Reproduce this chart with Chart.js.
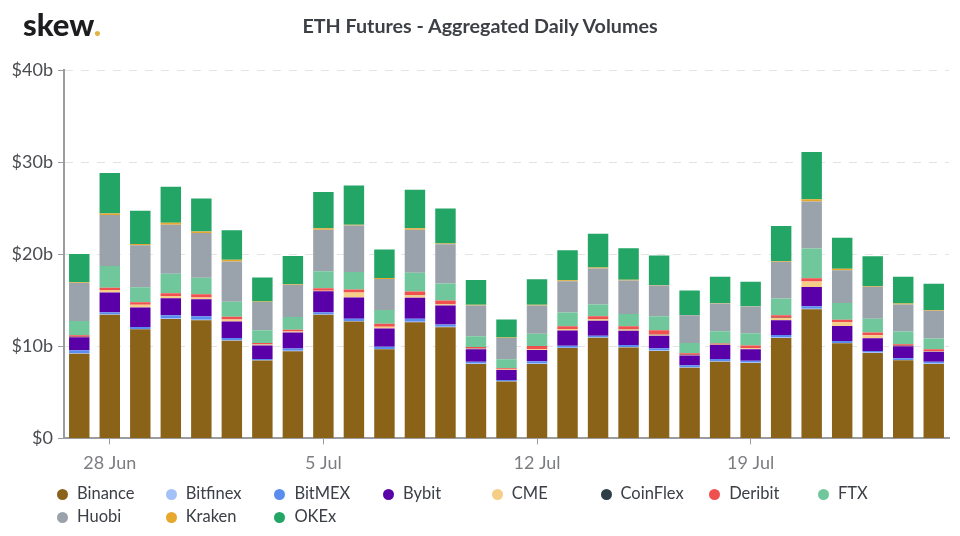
<!DOCTYPE html>
<html>
<head>
<meta charset="utf-8">
<title>ETH Futures - Aggregated Daily Volumes</title>
<script src="https://cdn.jsdelivr.net/npm/chart.js@4"></script>
<style>
  html, body { margin: 0; padding: 0; background: #fff; }
  #wrap { position: relative; width: 960px; height: 536px; overflow: hidden; font-family: Lato, sans-serif; }
  #logo { position: absolute; left: 23px; top: 5px; font-size: 31px; font-weight: 900; color: #1d1d1f; }
  #logo span { color: #e3b341; }
  #title { position: absolute; left: 0; width: 960px; top: 14px; text-align: center; font-size: 19.7px; line-height: 24px; font-weight: 700; color: #3c3f44; }
  #legend div { position: absolute; font-size: 16.5px; line-height: 20px; color: #3c4046; white-space: nowrap; }
  #legend i { position: absolute; left: -20px; top: 6px; width: 11px; height: 11px; border-radius: 50%; }
</style>
</head>
<body>
<div id="wrap">
  <canvas id="chart" width="960" height="536"></canvas>
  <div id="logo">skew<span>.</span></div>
  <div id="title">ETH Futures - Aggregated Daily Volumes</div>
  <div id="legend"></div>
</div>
<script>
const dates = ['27 Jun', '28 Jun', '29 Jun', '30 Jun', '1 Jul', '2 Jul', '3 Jul', '4 Jul', '5 Jul', '6 Jul',
  '7 Jul', '8 Jul', '9 Jul', '10 Jul', '11 Jul', '12 Jul', '13 Jul', '14 Jul', '15 Jul', '16 Jul',
  '17 Jul', '18 Jul', '19 Jul', '20 Jul', '21 Jul', '22 Jul', '23 Jul', '24 Jul', '25 Jul'];
const tickDates = ['28 Jun', '5 Jul', '12 Jul', '19 Jul'];
const yTicks = ['$0', '$10b', '$20b', '$30b', '$40b'];

// all in $ billions
const binance = [9.2, 13.43, 11.84, 12.96, 12.82, 10.6, 8.45, 9.46, 13.42, 12.7, 9.67, 12.6, 12.08, 8.08, 6.17, 8.08, 9.81, 10.93, 9.88, 9.49, 7.68, 8.33, 8.19, 10.9, 14.02, 10.33, 9.28, 8.48, 8.08];
const bitfinex = [0.06, 0.05, 0.05, 0.06, 0.05, 0.05, 0.04, 0.05, 0.05, 0.05, 0.05, 0.06, 0.05, 0.04, 0.03, 0.04, 0.04, 0.04, 0.04, 0.05, 0.04, 0.04, 0.04, 0.05, 0.05, 0.04, 0.04, 0.04, 0.04];
const bitmex = [0.3, 0.22, 0.21, 0.34, 0.38, 0.25, 0.14, 0.24, 0.23, 0.25, 0.24, 0.34, 0.24, 0.21, 0.15, 0.25, 0.21, 0.18, 0.22, 0.26, 0.21, 0.25, 0.21, 0.28, 0.28, 0.21, 0.18, 0.18, 0.21];
const bybit = [1.41, 2.15, 2.1, 1.87, 1.85, 1.8, 1.47, 1.75, 2.28, 2.3, 1.98, 2.26, 2.06, 1.34, 1.08, 1.23, 1.66, 1.62, 1.55, 1.35, 1.07, 1.52, 1.23, 1.6, 2.1, 1.63, 1.37, 1.3, 1.09];
const cme = [0.05, 0.25, 0.3, 0.22, 0.2, 0.2, 0.1, 0.1, 0.05, 0.54, 0.18, 0.29, 0.14, 0.07, 0.04, 0.07, 0.15, 0.18, 0.14, 0.11, 0.06, 0.04, 0.11, 0.25, 0.58, 0.39, 0.33, 0.04, 0.04];
const coinflex = [0.01, 0.01, 0.01, 0.01, 0.01, 0.01, 0.01, 0.01, 0.01, 0.01, 0.01, 0.01, 0.01, 0.01, 0.01, 0.01, 0.01, 0.01, 0.01, 0.01, 0.01, 0.01, 0.01, 0.01, 0.01, 0.01, 0.01, 0.01, 0.01];
const deribit = [0.18, 0.25, 0.27, 0.29, 0.33, 0.3, 0.16, 0.2, 0.27, 0.32, 0.33, 0.4, 0.4, 0.18, 0.13, 0.36, 0.29, 0.29, 0.33, 0.47, 0.18, 0.11, 0.29, 0.29, 0.36, 0.26, 0.29, 0.18, 0.21];
const ftx = [1.55, 2.35, 1.63, 2.13, 1.81, 1.64, 1.37, 1.38, 1.85, 1.91, 1.47, 2.02, 1.83, 1.15, 0.98, 1.33, 1.51, 1.3, 1.33, 1.52, 1.12, 1.34, 1.34, 1.81, 3.21, 1.84, 1.48, 1.38, 1.16];
const huobi = [4.15, 5.55, 4.56, 5.33, 4.86, 4.36, 3.07, 3.5, 4.5, 5.03, 3.38, 4.68, 4.27, 3.36, 2.32, 3.07, 3.39, 3.89, 3.65, 3.35, 3.01, 3.01, 2.9, 3.99, 5.1, 3.56, 3.48, 2.93, 3.01];
const kraken = [0.07, 0.15, 0.14, 0.2, 0.15, 0.2, 0.05, 0.07, 0.15, 0.1, 0.1, 0.15, 0.08, 0.07, 0.05, 0.07, 0.09, 0.12, 0.08, 0.05, 0.03, 0.06, 0.04, 0.08, 0.25, 0.14, 0.1, 0.12, 0.08];
const okex = [3.03, 4.4, 3.6, 3.9, 3.6, 3.2, 2.62, 3.05, 3.93, 4.25, 3.1, 4.2, 3.81, 2.7, 1.95, 2.78, 3.27, 3.67, 3.41, 3.2, 2.65, 2.84, 2.65, 3.79, 5.15, 3.38, 3.23, 2.89, 2.86];

const exchanges = ['Binance', 'Bitfinex', 'BitMEX', 'Bybit', 'CME', 'CoinFlex', 'Deribit', 'FTX', 'Huobi', 'Kraken', 'OKEx'];
const colors = ['#8b6318', '#a3c1f7', '#5b8def', '#5a00a8', '#f5cf87', '#2f3e46', '#f0514f', '#70c79c', '#9aa2ab', '#e8a82e', '#22a565'];
const values = [binance, bitfinex, bitmex, bybit, cme, coinflex, deribit, ftx, huobi, kraken, okex];

const datasets = exchanges.map((name, i) => {
  return {
    label: name,
    data: values[i],
    backgroundColor: colors[i],
    borderWidth: 0,
    categoryPercentage: 1,
    barPercentage: 0.67
  };
});

new Chart(document.getElementById('chart'), {
  type: 'bar',
  data: { labels: dates, datasets: datasets },
  options: {
    responsive: false,
    animation: false,
    layout: { padding: { top: 70, right: 11, bottom: 54 } },
    plugins: {
      legend: { display: false },
      tooltip: { enabled: false }
    },
    scales: {
      x: {
        stacked: true,
        border: { color: '#9a9ca0', width: 2 },
        grid: {
          offset: false,
          drawOnChartArea: false,
          tickLength: 6,
          tickColor: ctx => tickDates.includes(dates[ctx.index]) ? '#9a9ca0' : 'transparent'
        },
        ticks: {
          autoSkip: false,
          maxRotation: 0,
          padding: 8,
          color: '#7b7d80',
          font: { family: 'Lato', size: 18 },
          callback: (v, i) => tickDates.includes(dates[i]) ? dates[i] : ''
        }
      },
      y: {
        stacked: true,
        min: 0,
        max: 40,
        afterFit: scale => { scale.width = 64; },
        border: { color: '#9a9ca0', width: 2, dash: [8, 8] },
        grid: {
          color: '#e4e4e4',
          tickColor: '#9a9ca0',
          tickBorderDash: [],
          tickLength: 6
        },
        ticks: {
          stepSize: 10,
          padding: 5,
          color: '#4a4c50',
          font: { family: 'Lato', size: 18 },
          callback: v => yTicks[v / 10]
        }
      }
    }
  }
});

// legend sits in two rows under the axis, fixed column pitch
const legend = document.getElementById('legend');
exchanges.forEach((name, i) => {
  const item = document.createElement('div');
  item.style.left = (77 + (i % 8) * 108.7) + 'px';
  item.style.top = (483 + Math.floor(i / 8) * 23) + 'px';
  item.innerHTML = '<i style="background:' + colors[i] + '"></i>' + name;
  legend.appendChild(item);
});
</script>
</body>
</html>
